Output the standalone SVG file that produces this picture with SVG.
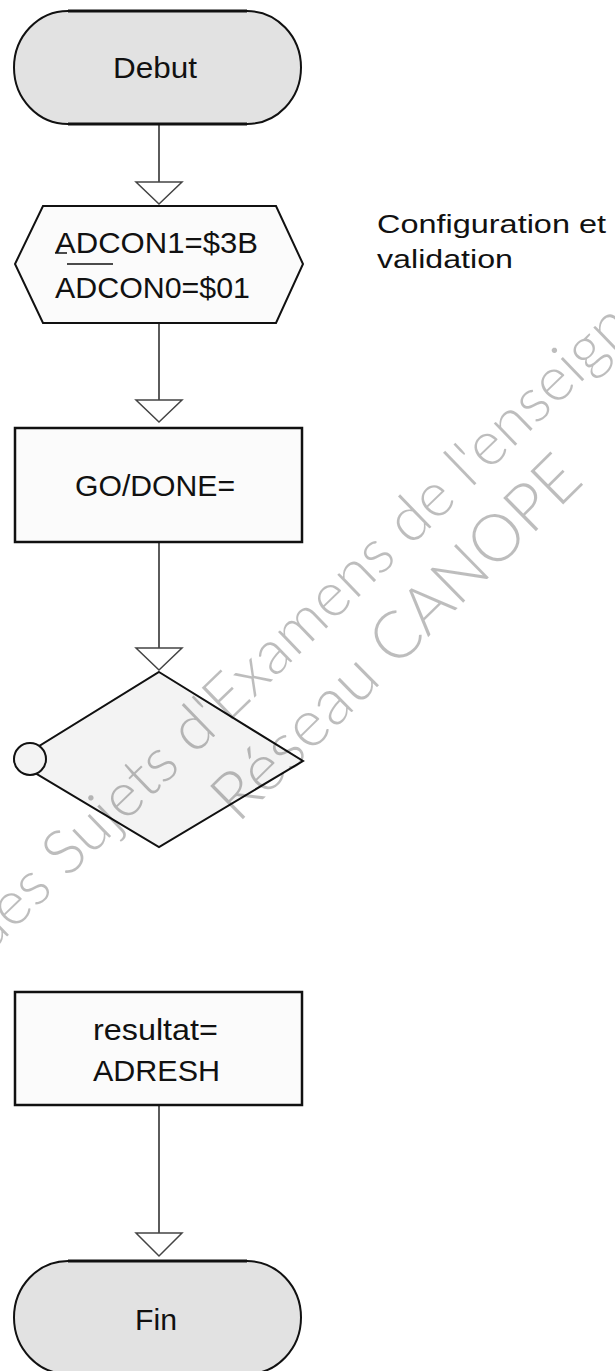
<svg xmlns="http://www.w3.org/2000/svg" width="615" height="1371" viewBox="0 0 615 1371">
<style>
.lbl{font-family:"Liberation Sans",Arial,sans-serif;font-size:29px;fill:#111}
.cmt{font-family:"Liberation Sans",Arial,sans-serif;font-size:25px;fill:#111}
.term{fill:#e2e2e2;stroke:#111;stroke-width:2}
.box{fill:#fbfbfb;stroke:#111;stroke-width:2.5}
.dec{fill:#f3f3f3;stroke:#111;stroke-width:2}
.conn line{stroke:#333;stroke-width:1.6}
.arr{fill:#fff;stroke:#444;stroke-width:1.5}
.wm{font-family:"Lato","Open Sans",sans-serif;font-weight:300;font-size:62px;fill:#000;fill-opacity:0.26}
</style>
<rect width="615" height="1371" fill="#fff"/>
<g id="connectors" class="conn">
<line x1="159" y1="124" x2="159" y2="182"/>
<polygon class="arr" points="136,182 182,182 159,204"/>
<line x1="159" y1="323" x2="159" y2="400"/>
<polygon class="arr" points="136,400 182,400 159,422"/>
<line x1="159" y1="542" x2="159" y2="648"/>
<polygon class="arr" points="136,648 182,648 159,670"/>
<line x1="159" y1="1105" x2="159" y2="1233"/>
<polygon class="arr" points="136,1233 182,1233 159,1256"/>
</g>
<g id="debut">
<path class="term" d="M68,11 H247 A54,56.5 0 0 1 247,124 H68 A54,56.5 0 0 1 68,11 Z"/>
<line x1="68" y1="11" x2="247" y2="11" stroke="#111" stroke-width="3"/>
<line x1="68" y1="124" x2="247" y2="124" stroke="#111" stroke-width="3"/>
<text class="lbl" x="113" y="78" textLength="84" lengthAdjust="spacingAndGlyphs">Debut</text>
</g>
<g id="config">
<polygon class="box" style="stroke-width:2" points="43,206 276,206 303,264 276,323 43,323 15,264"/>
<text class="lbl" x="55" y="253" textLength="203" lengthAdjust="spacingAndGlyphs">ADCON1=$3B</text>
<text class="lbl" x="55" y="298" textLength="195" lengthAdjust="spacingAndGlyphs">ADCON0=$01</text>
<line x1="55" y1="253" x2="67" y2="253" stroke="#111" stroke-width="1.5"/>
<line x1="67" y1="264" x2="113" y2="264" stroke="#111" stroke-width="1.5"/>
</g>
<g id="comment">
<text class="cmt" x="377" y="233" textLength="229" lengthAdjust="spacingAndGlyphs">Configuration et</text>
<text class="cmt" x="377" y="268" textLength="136" lengthAdjust="spacingAndGlyphs">validation</text>
</g>
<g id="godone">
<rect class="box" x="15" y="428" width="287" height="114"/>
<text class="lbl" x="75" y="496" textLength="160" lengthAdjust="spacingAndGlyphs">GO/DONE=</text>
</g>
<g id="decision">
<polygon class="dec" points="159,672 303,761 159,847 15,761"/>
<circle class="dec" cx="30" cy="759" r="16"/>
</g>
<g id="resultat">
<rect class="box" x="15" y="992" width="287" height="113"/>
<text class="lbl" x="93" y="1040" textLength="125" lengthAdjust="spacingAndGlyphs">resultat=</text>
<text class="lbl" x="93" y="1081" textLength="127" lengthAdjust="spacingAndGlyphs">ADRESH</text>
</g>
<g id="fin">
<path class="term" d="M68,1261 H247 A54,56.5 0 0 1 247,1374 H68 A54,56.5 0 0 1 68,1261 Z"/>
<line x1="68" y1="1261" x2="247" y2="1261" stroke="#111" stroke-width="3"/>
<text class="lbl" x="135" y="1330" textLength="42" lengthAdjust="spacingAndGlyphs">Fin</text>
</g>
<g id="watermark">
<text class="wm" transform="translate(-12,955) rotate(-44)">des Sujets d'Examens de l'enseignement</text>
<text class="wm" style="font-size:66px" transform="translate(238,824) rotate(-44.5)">Réseau CANOPE</text>
</g>
</svg>
